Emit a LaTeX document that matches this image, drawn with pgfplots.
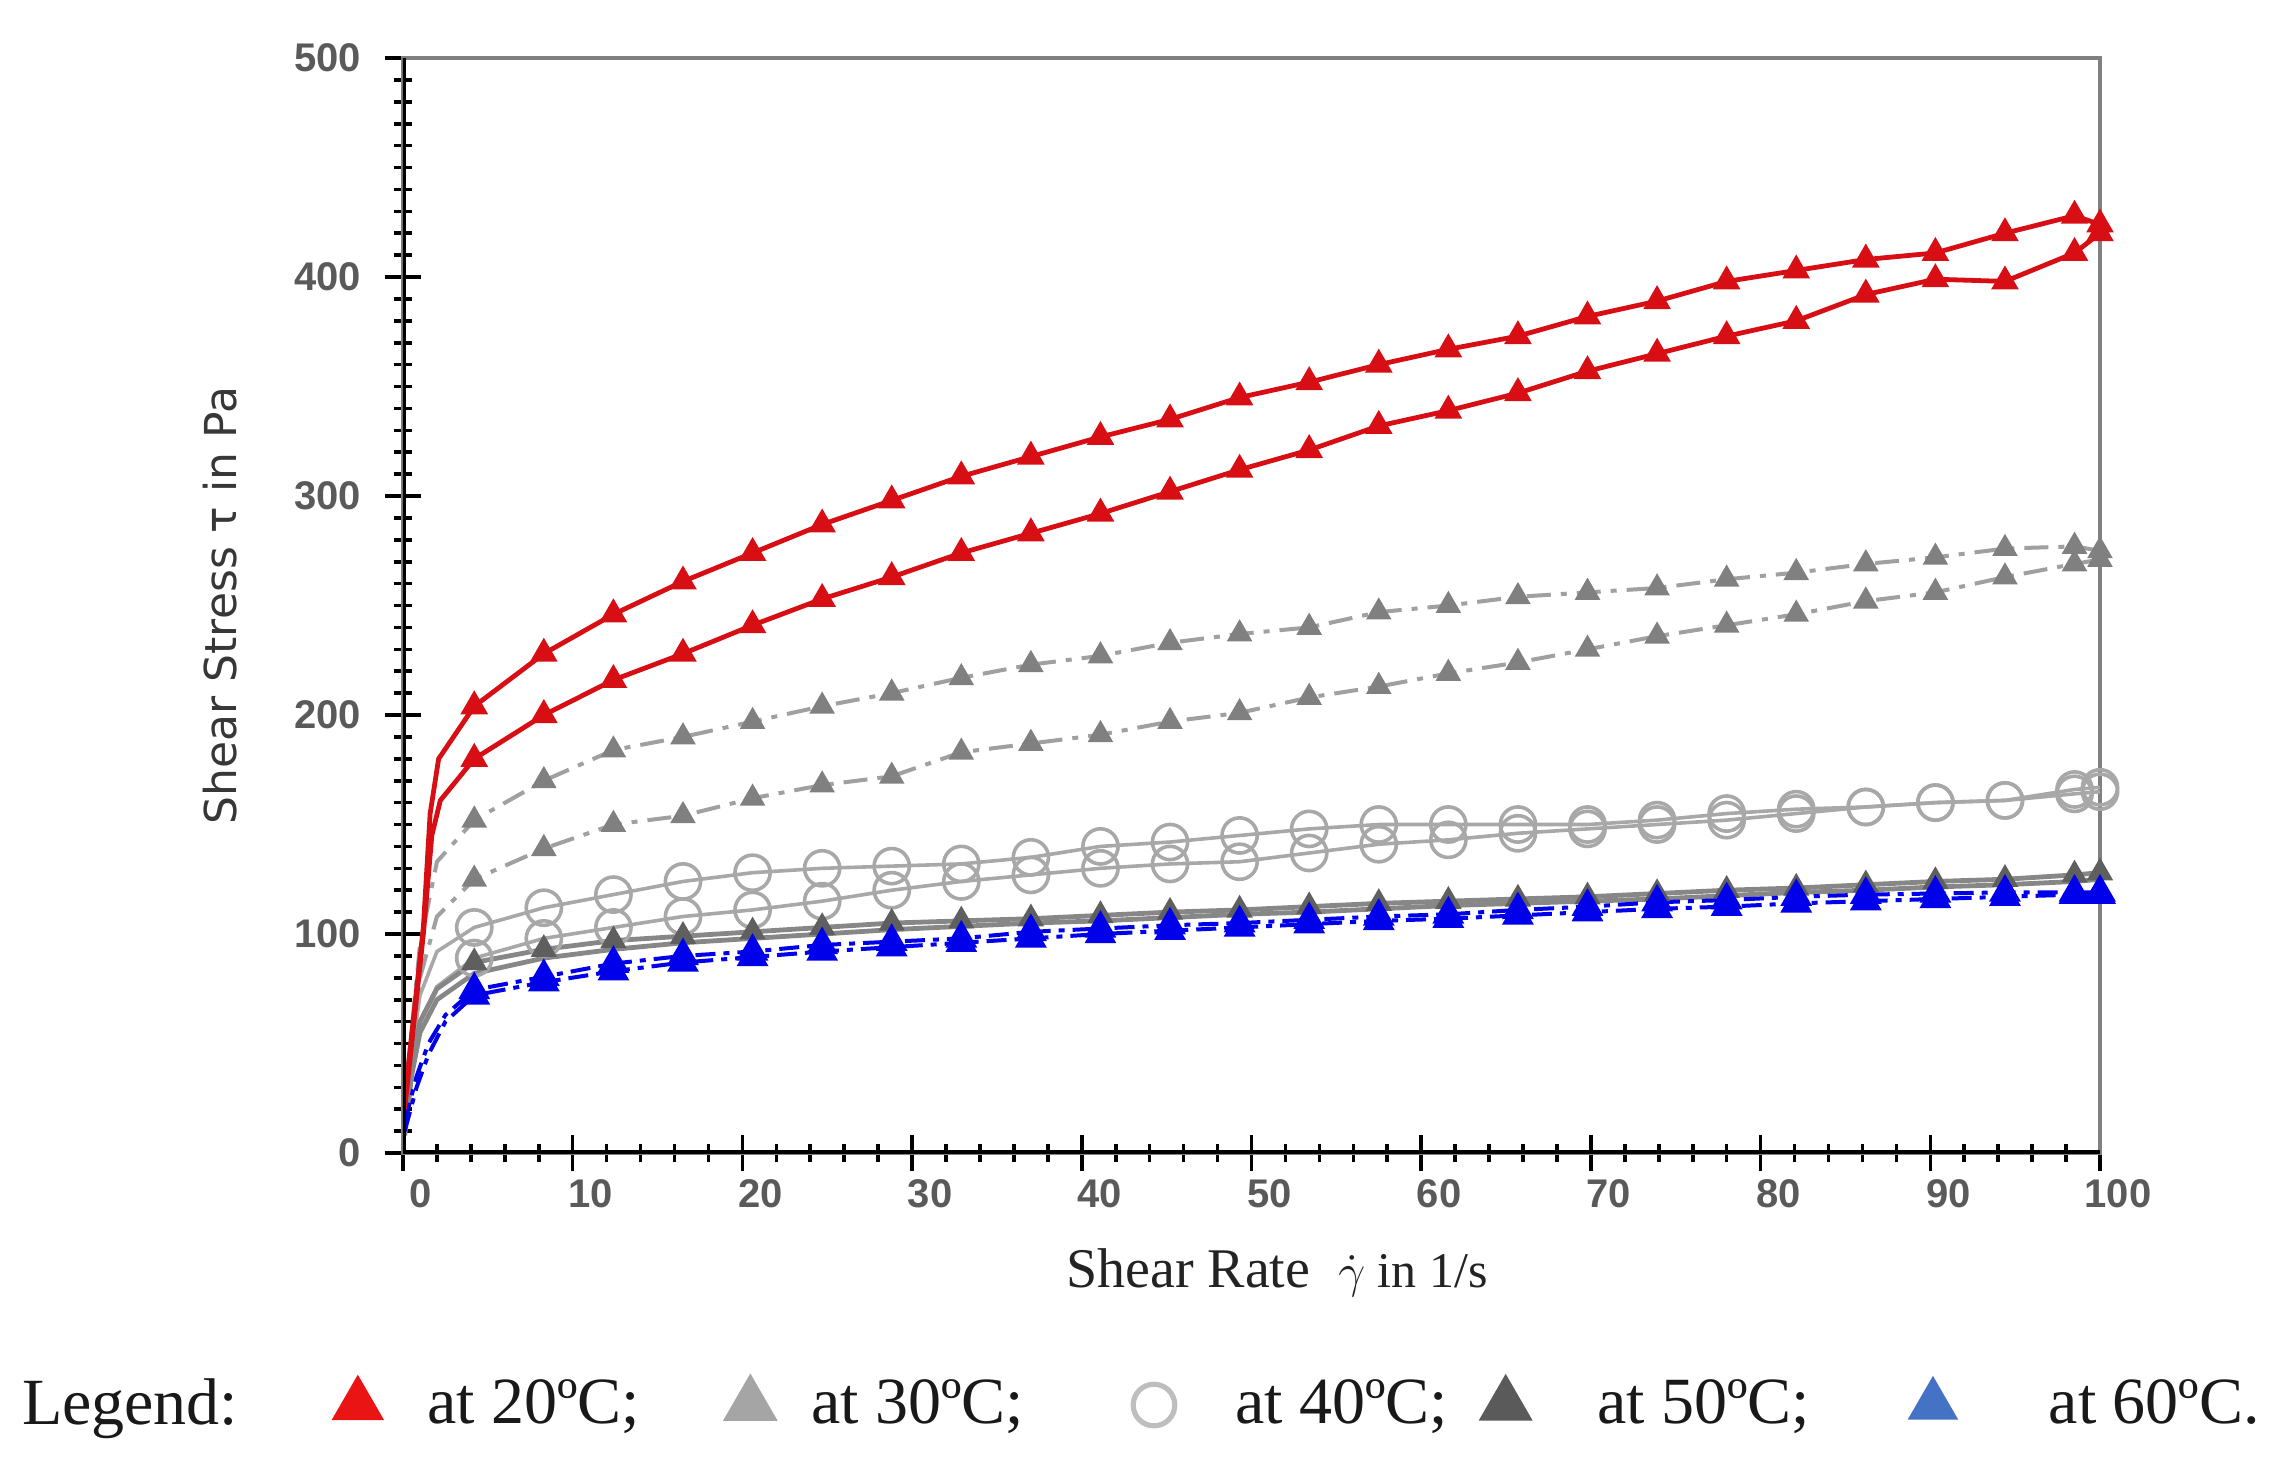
\documentclass[border=0pt]{standalone}
\usepackage{fontspec}
\setmainfont{Liberation Serif}
\newfontfamily\sansfont{Liberation Sans}
\newfontfamily\dejavu{DejaVu Sans}
\usepackage{pgfplots}
\usepackage{pgfplotstable}
\pgfplotsset{compat=1.18}

\definecolor{red20}{RGB}{215,15,20}
\definecolor{g30l}{RGB}{160,160,160}
\definecolor{g30m}{RGB}{128,128,128}
\definecolor{g40}{RGB}{168,168,168}
\definecolor{g50l}{RGB}{135,135,135}
\definecolor{g50m}{RGB}{95,95,95}
\definecolor{blue60}{RGB}{0,0,235}
\definecolor{tickgray}{RGB}{90,90,90}
\definecolor{lred}{RGB}{235,20,20}
\definecolor{lg30}{RGB}{165,165,165}
\definecolor{lg40}{RGB}{190,190,190}
\definecolor{lg50}{RGB}{90,90,90}
\definecolor{lblue}{RGB}{68,114,196}

\pgfplotstableread{
x y
0.1 25
1.2 103
1.6 155
2.1 180
4.2 204
8.3 228
12.4 246
16.5 261
20.6 274
24.7 287
28.8 298
32.9 309
37.0 318
41.1 327
45.2 335
49.3 345
53.4 352
57.5 360
61.6 367
65.7 373
69.8 382
73.9 389
78.0 398
82.1 403
86.2 408
90.3 411
94.4 420
98.5 428
100 424
}\RedA
\pgfplotstableread{
x y
0.1 20
1.2 100
1.7 145
2.2 161
4.2 180
8.3 200
12.4 216
16.5 228
20.6 241
24.7 253
28.8 263
32.9 274
37.0 283
41.1 292
45.2 302
49.3 312
53.4 321
57.5 332
61.6 339
65.7 347
69.8 357
73.9 365
78.0 373
82.1 380
86.2 392
90.3 399
94.4 398
98.5 411
100 420
}\RedB
\pgfplotstableread{
x y
0.1 15
0.5 55
1.0 95
2.0 133
4.2 152
8.3 170
12.4 184
16.5 190
20.6 197
24.7 204
28.8 210
32.9 217
37.0 223
41.1 227
45.2 233
49.3 237
53.4 240
57.5 247
61.6 250
65.7 254
69.8 256
73.9 258
78.0 262
82.1 265
86.2 269
90.3 272
94.4 276
98.5 277
100 275
}\GrA
\pgfplotstableread{
x y
0.1 12
0.5 45
1.0 80
2.0 108
4.2 125
8.3 139
12.4 150
16.5 154
20.6 162
24.7 168
28.8 172
32.9 183
37.0 187
41.1 191
45.2 197
49.3 201
53.4 208
57.5 213
61.6 219
65.7 224
69.8 230
73.9 236
78.0 241
82.1 246
86.2 252
90.3 256
94.4 263
98.5 269
100 271
}\GrB
\pgfplotstableread{
x y
0.1 12
0.5 45
1.0 72
2.0 92
4.2 103
8.3 112
12.4 118
16.5 124
20.6 128
24.7 130
28.8 131
32.9 132
37.0 135
41.1 140
45.2 142
49.3 145
53.4 148
57.5 150
61.6 150
65.7 150
69.8 150
73.9 152
78.0 155
82.1 157
86.2 158
90.3 160
94.4 161
98.5 166
100 167
}\CiA
\pgfplotstableread{
x y
0.1 10
0.5 38
1.0 60
2.0 76
4.2 89
8.3 98
12.4 103
16.5 108
20.6 111
24.7 115
28.8 120
32.9 124
37.0 127
41.1 130
45.2 132
49.3 133
53.4 137
57.5 141
61.6 143
65.7 146
69.8 148
73.9 150
78.0 152
82.1 155
86.2 158
90.3 160
94.4 161
98.5 164
100 165
}\CiB
\pgfplotstableread{
x y
0.1 10
0.5 40
1.0 60
2.0 75
4.2 87
8.3 93
12.4 97
16.5 99
20.6 101
24.7 103
28.8 105
32.9 106
37.0 107
41.1 108.5
45.2 110
49.3 111
53.4 112.5
57.5 114
61.6 115
65.7 116
69.8 117
73.9 118.5
78.0 120
82.1 121
86.2 122.5
90.3 124
94.4 125
98.5 127
100 128
}\DkA
\pgfplotstableread{
x y
0.1 8
0.5 35
1.0 55
2.0 70
4.2 82
8.3 89
12.4 93
16.5 96
20.6 98
24.7 100
28.8 102
32.9 103.5
37.0 105
41.1 106
45.2 107.5
49.3 109
53.4 110
57.5 111.5
61.6 113
65.7 114
69.8 115
73.9 116
78.0 117.5
82.1 119
86.2 120
90.3 121.5
94.4 122.5
98.5 124
100 125
}\DkB
\pgfplotstableread{
x y
0.1 14
0.8 35
1.5 50
2.5 63
4.2 74.5
8.3 80.5
12.4 86.5
16.5 90
20.6 92
24.7 95
28.8 96.5
32.9 98
37.0 101
41.1 102.5
45.2 104
49.3 105
53.4 106.5
57.5 108
61.6 109
65.7 111
69.8 112.5
73.9 114.5
78.0 115.5
82.1 117
86.2 118
90.3 118.5
94.4 119
98.5 119
100 119
}\BlA
\pgfplotstableread{
x y
0.1 10
0.8 30
1.5 45
2.5 60
4.2 72
8.3 78
12.4 83
16.5 87
20.6 89.5
24.7 92
28.8 94
32.9 96
37.0 98
41.1 100
45.2 101.5
49.3 103
53.4 104.5
57.5 106
61.6 107
65.7 108.5
69.8 110
73.9 111.5
78.0 112.5
82.1 114
86.2 115
90.3 116
94.4 117
98.5 118
100 118
}\BlB

\pgfplotsset{
  l20/.style={red20, line width=1.2pt, no marks},
  m20/.style={only marks, mark=triangle*, mark size=3.6pt, mark options={fill=red20, draw=red20}},
  l30/.style={g30l, line width=1pt, dash pattern=on 6pt off 2.5pt on 1.5pt off 2.5pt, no marks},
  m30/.style={only marks, mark=triangle*, mark size=3.3pt, mark options={fill=g30m, draw=g30m, solid}},
  l40/.style={g40, line width=0.9pt, no marks},
  m40/.style={only marks, mark=o, mark size=4.4pt, mark options={draw=g40, line width=0.9pt, solid}},
  l50/.style={g50l, line width=1.2pt, no marks},
  m50/.style={only marks, mark=triangle*, mark size=3.4pt, mark options={fill=g50m, draw=g50m}},
  l60/.style={blue60, line width=1pt, dash pattern=on 5pt off 2pt on 1.5pt off 2pt, no marks},
  m60/.style={only marks, mark=triangle*, mark size=4.2pt, mark options={fill=blue60, draw=blue60, solid}},
  legimg/.style={legend image code/.code={%
     \path[draw=none, fill=none] (0pt,-6pt) rectangle (17pt,6pt);
     \draw[##1] plot[only marks] coordinates {(8.5pt,0pt)};}},
}

\begin{document}
\begin{tikzpicture}
\path[use as bounding box] (-100.75pt,-82pt) rectangle (467.25pt,288.25pt);
\begin{axis}[
  scale only axis, width=424.25pt, height=273.75pt,
  xmin=0, xmax=100, ymin=0, ymax=500,
  xtick={0,10,...,100}, ytick={0,100,...,500},
  minor x tick num=4, minor y tick num=9,
  tick pos=left, tick align=center,
  major tick length=9pt, minor tick length=4.5pt,
  tick style={black, line width=0.9pt},
  axis line style={draw=gray, line width=0.8pt},
  /pgf/number format/assume math mode=true,
  ticklabel style={font=\sansfont\bfseries\fontsize{10}{11}\selectfont, text=tickgray},
  xticklabel style={xshift=4.5pt, inner sep=0pt, yshift=-2pt},
  yticklabel style={inner sep=0pt, xshift=-5.75pt},
  xlabel={\fontsize{14}{16}\selectfont Shear Rate\hspace{7pt}{\fontsize{12.5}{14}\selectfont$\dot{\gamma}$ in 1/s}},
  xlabel style={at={(axis description cs:0.515,-0.109)}, anchor=center, text={rgb,255:red,35;green,35;blue,35}},
  ylabel={\dejavu\fontsize{11}{13}\selectfont Shear Stress τ in Pa},
  ylabel style={at={(axis description cs:-0.1075,0.5)}, anchor=center, text={rgb,255:red,55;green,55;blue,55}},
  legend columns=-1,
  legend cell align=left,
  legend style={draw=none, fill=none, inner sep=0pt, outer sep=0pt,
    at={(axis description cs:-0.2245,-0.2283)}, anchor=west,
    font=\fontsize{16.5}{19}\selectfont, text={rgb,255:red,25;green,25;blue,25},
    /tikz/column sep=0pt, nodes={inner sep=0pt, anchor=west}},
]
% 30 C
\addplot[forget plot, l30] table[x=x,y=y]{\GrA};
\addplot[forget plot, l30] table[x=x,y=y]{\GrB};
\addplot[forget plot, m30, skip coords between index={0}{4}] table[x=x,y=y]{\GrA};
\addplot[forget plot, m30, skip coords between index={0}{4}] table[x=x,y=y]{\GrB};
% 40 C
\addplot[forget plot, l40] table[x=x,y=y]{\CiA};
\addplot[forget plot, l40] table[x=x,y=y]{\CiB};
\addplot[forget plot, m40, skip coords between index={0}{4}] table[x=x,y=y]{\CiA};
\addplot[forget plot, m40, skip coords between index={0}{4}] table[x=x,y=y]{\CiB};
% 50 C
\addplot[forget plot, m50, skip coords between index={0}{4}] table[x=x,y=y]{\DkA};
\addplot[forget plot, l50] table[x=x,y=y]{\DkA};
\addplot[forget plot, l50] table[x=x,y=y]{\DkB};
% 60 C
\addplot[forget plot, l60] table[x=x,y=y]{\BlA};
\addplot[forget plot, l60] table[x=x,y=y]{\BlB};
\addplot[forget plot, m60, skip coords between index={0}{4}] table[x=x,y=y]{\BlB};
\addplot[forget plot, m60, skip coords between index={0}{4}] table[x=x,y=y]{\BlA};
% 20 C
\addplot[forget plot, l20] table[x=x,y=y]{\RedA};
\addplot[forget plot, l20] table[x=x,y=y]{\RedB};
\addplot[forget plot, m20, skip coords between index={0}{4}] table[x=x,y=y]{\RedA};
\addplot[forget plot, m20, skip coords between index={0}{4}] table[x=x,y=y]{\RedB};

\draw[black, line width=1.4pt] (rel axis cs:0,1) -- (rel axis cs:0,0) -- (rel axis cs:1,0);

% legend
\addlegendimage{legend image code/.code={}}
\addlegendentry{\makebox[75.46pt][l]{Legend:}}
\addlegendimage{legimg, only marks, mark=triangle*, mark size=7.2pt, draw=lred, fill=lred}
\addlegendentry{\makebox[81.12pt][l]{\hspace*{8.86pt}at 20ºC;}}
\addlegendimage{legimg, only marks, mark=triangle*, mark size=7.5pt, draw=lg30, fill=lg30}
\addlegendentry{\makebox[83.92pt][l]{\hspace*{6.76pt}at 30ºC;}}
\addlegendimage{legimg, only marks, mark=o, mark size=5.2pt, draw=lg40, line width=1.3pt}
\addlegendentry{\makebox[70.92pt][l]{\hspace*{11.76pt}at 40ºC;}}
\addlegendimage{legimg, only marks, mark=triangle*, mark size=7.4pt, draw=lg50, fill=lg50}
\addlegendentry{\makebox[89.82pt][l]{\hspace*{14.36pt}at 50ºC;}}
\addlegendimage{legimg, only marks, mark=triangle*, mark size=6.9pt, draw=lblue, fill=lblue}
\addlegendentry{\hspace*{20.46pt}at 60ºC.}
\end{axis}
\end{tikzpicture}
\end{document}
